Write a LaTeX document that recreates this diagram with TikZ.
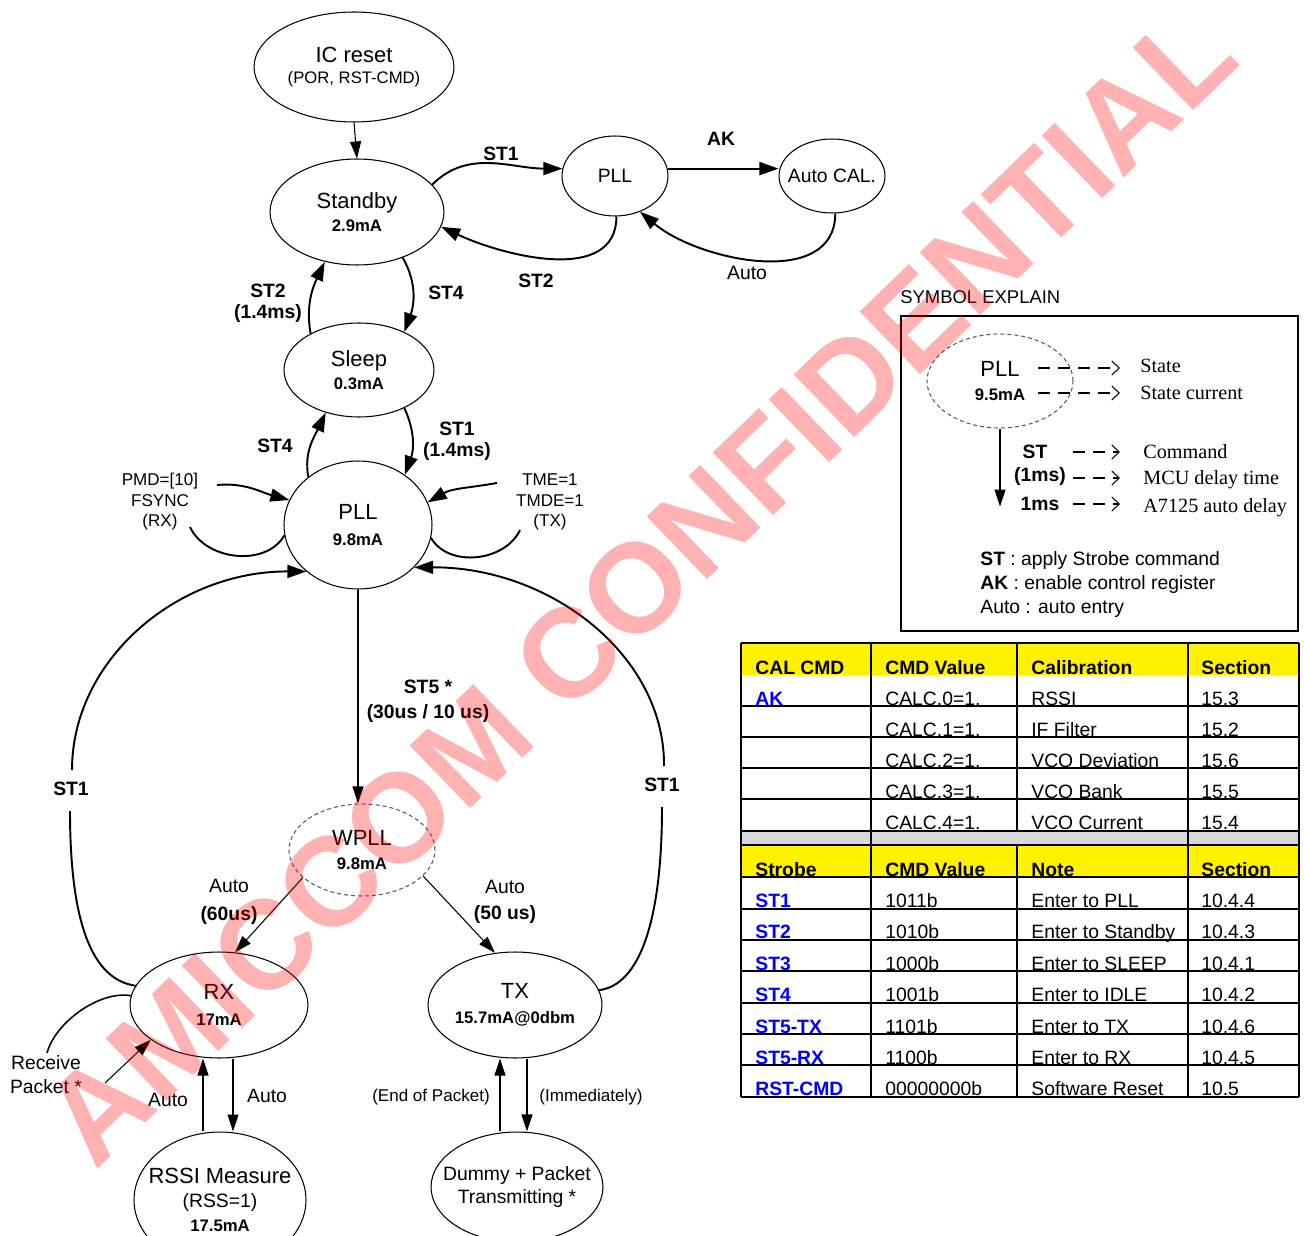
\documentclass[tikz,border=0pt]{standalone}
\usepackage{fontspec}
\setmainfont{Liberation Sans}
\newfontfamily\romanfont{Liberation Serif}
\usetikzlibrary{shapes.geometric,arrows.meta,calc}

% current drawn under a state name
\newcommand\curr[1]{{\fontsize{9.5}{10}\selectfont\bfseries #1}}

\begin{document}
\begin{tikzpicture}[x=0.02cm, y=0.02cm,
    state/.style={draw, ellipse, line width=0.6pt, inner sep=0pt},
    wait/.style={state, draw=black!65, dash pattern=on 0.08cm off 0.06cm},
    words/.style={align=center, inner sep=0pt, font=\fontsize{12.5}{13.5}\selectfont},
    small/.style={align=center, inner sep=0pt, font=\fontsize{11}{13.5}\selectfont},
    lbl/.style={inner sep=0pt, align=center, font=\fontsize{11}{12}\selectfont\bfseries},
    note/.style={inner sep=0pt, align=center, font=\fontsize{11}{13}\selectfont},
    cond/.style={inner sep=0pt, align=center, font=\fontsize{9.7}{11.7}\selectfont},
    feed/.style={line width=0.6pt, -{Triangle[length=0.34cm, width=0.22cm]}},
    move/.style={line width=1.1pt, -{Triangle[length=0.38cm, width=0.26cm]}},
    hook/.style={line width=1.1pt},
    hint/.style={line width=0.6pt, dash pattern=on 0.24cm off 0.16cm, -{Straight Barb[length=0.15cm, width=0.28cm]}},
    desc/.style={anchor=west, inner sep=0pt, font=\romanfont\fontsize{11.5}{12}\selectfont},
    rule/.style={line width=1.4pt},
    hair/.style={line width=0.6pt},
    cell/.style={anchor=base west, inner sep=0pt, font=\fontsize{11}{12}\selectfont},
    head/.style={cell, font=\fontsize{11}{12}\selectfont\bfseries},
    strobe/.style={cell, text=blue, font=\fontsize{11}{12}\selectfont\bfseries},
    stamp/.style={anchor=base, inner sep=0pt, rotate=44, text=red, text opacity=0.3, font=\fontsize{72}{72}\selectfont\bfseries}]

\useasboundingbox (0,0) rectangle (1304,-1236);
\clip (0,0) rectangle (1304,-1236);

% ---- states ----
\node[state, minimum width=4cm, minimum height=2.2cm,
  label={[words]center:{IC reset\\[-2pt]{\fontsize{9.5}{10}\selectfont(POR, RST-CMD)}}}] (icreset) at (354,-67) {};
\node[state, minimum width=3.48cm, minimum height=2.12cm,
  label={[words]center:{Standby\\\curr{2.9mA}}}] (standby) at (357,-212) {};
\node[state, minimum width=2.12cm, minimum height=1.6cm,
  label={[small]center:PLL}] (pllcal) at (615,-176) {};
\node[state, minimum width=2.12cm, minimum height=1.48cm,
  label={[small]center:Auto CAL.}] (autocal) at (832,-176) {};
\node[state, minimum width=3cm, minimum height=1.88cm,
  label={[words]center:{Sleep\\\curr{0.3mA}}}] (sleep) at (359,-370) {};
\node[state, minimum width=2.96cm, minimum height=2.56cm,
  label={[words]center:{PLL\\[1pt]\curr{9.8mA}}}] (pll) at (358,-525) {};
\node[wait, minimum width=2.92cm, minimum height=1.84cm,
  label={[words]center:{WPLL\\\curr{9.8mA}}}] (wpll) at (362,-850) {};
\node[state, minimum width=3.56cm, minimum height=2.12cm,
  label={[words]center:{RX\\[1pt]\curr{17mA}}}] (rx) at (219,-1005) {};
\node[state, minimum width=3.48cm, minimum height=2.12cm,
  label={[words]center:{TX\\[1pt]\curr{15.7mA@0dbm}}}] (tx) at (515,-1005) {};
\node[state, minimum width=3.44cm, minimum height=2.72cm,
  label={[words]center:{RSSI Measure\\{\fontsize{11}{12}\selectfont(RSS=1)}\\\curr{17.5mA}}}] (rssi) at (220,-1200) {};
\node[state, minimum width=3.44cm, minimum height=2.2cm,
  label={[small]center:{Dummy + Packet\\Transmitting *}}] (dummy) at (517,-1187) {};

% ---- standby / calibration loop ----
\draw[feed] (icreset.south) -- (standby.north);
\draw[move] (standby.20) to[out=45,in=180] (pllcal.172);
\node[lbl] (st1cal) at (501,-154) {ST1};
\draw[move] (pllcal.8) -- (pllcal.8 -| autocal.west);
\node[lbl] (ak) at (721,-139) {AK};
\draw[move] (pllcal.-88) to[out=-90,in=-25] (standby.-10);
\node[lbl] (st2cal) at (536,-281) {ST2};
\draw[move] (autocal.-85) to[out=-90,in=-40] (pllcal.-55);
\node[note] (autocalback) at (747,-273) {Auto};

% ---- standby / sleep / pll ----
\draw[move] (standby.-45) to[out=-60,in=70] (sleep.40);
\node[lbl] (st4a) at (446,-293) {ST4};
\draw[move] (sleep.143) to[out=100,in=-115] (standby.-123);
\node[lbl] (st2a) at (268,-303) {ST2\\(1.4ms)};
\draw[move] (pll.136) to[out=100,in=-115] (sleep.-128);
\node[lbl] (st4b) at (275,-446) {ST4};
\draw[move] (sleep.-40) to[out=-65,in=70] (pll.47);
\node[lbl] (st1a) at (457,-441) {ST1\\(1.4ms)};

% register settings beside PLL
\node[cond] (rxcond) at (160,-502) {PMD=[10]\\FSYNC\\(RX)};
\node[cond] (txcond) at (550,-502) {TME=1\\TMDE=1\\(TX)};
\coordinate (rxin) at (217,-485);
\coordinate (rxout) at (190,-527);
\coordinate (txin) at (497,-483);
\coordinate (txout) at (520,-530);
\draw[move] (rxin) to[out=5,in=165] (pll.160);
\draw[hook] (rxout) to[out=-65,in=-120] (pll.188);
\draw[move] (txin) to[out=190,in=30] (pll.18);
\draw[hook] (txout) to[out=-115,in=-60] (pll.-10);

% ---- pll / wpll / rx / tx ----
\draw[feed] (pll.south) -- (pll.south |- wpll.north);
\node[lbl] (st5) at (428,-701) {ST5 *\\[2pt](30us / 10 us)};
\draw[feed] (wpll.205) -- (rx.73);
\node[note] (autorx) at (229,-902) {Auto\\[3pt]\textbf{(60us)}};
\draw[feed] (wpll.-23) -- (tx.111);
\node[note] (autotx) at (505,-902) {Auto\\[2pt]\textbf{(50 us)}};

% ST1 back to PLL
\node[lbl] (st1l) at (71,-789) {ST1};
\node[lbl] (st1r) at (662,-785) {ST1};
\draw[hook] (rx.167) .. controls (95,-980) and (70,-930) .. ($(st1l)+(-1,-22)$);
\draw[move] ($(st1l)+(1,19)$) .. controls (72,-660) and (177,-571) .. (pll.-138);
\draw[hook] (tx.10) .. controls (640,-985) and (662,-920) .. ($(st1r)+(0,-22)$);
\draw[move] ($(st1r)+(2,19)$) .. controls (665,-656) and (551,-567) .. (pll.-37);

% rx side
\draw[feed] ($(rx.south)+(14,0)$) -- ($(rssi.north)+(13,0)$);
\draw[feed] ($(rssi.north)+(-17,0)$) -- ($(rx.south)+(-16,0)$);
\node[note] (autorssi) at (168,-1100) {Auto};
\node[note] (autoback) at (267,-1096) {Auto};
\node[note] (pkt) at (46,-1075) {Receive\\[0.7pt]Packet *};
\coordinate (pktin) at (105,-1083);
\coordinate (pkthook) at (47,-1053);
\draw[feed] (pktin) -- (rx.207);
\draw[hook, line width=0.9pt] (pkthook) to[out=75,in=170,looseness=0.8] (rx.174);

% tx side
\draw[feed] ($(tx.south)+(12,0)$) -- ($(dummy.north)+(10,0)$);
\draw[feed] ($(dummy.north)+(-17,0)$) -- ($(tx.south)+(-15,0)$);
\node[cond] (eop) at (431,-1097) {(End of Packet)};
\node[cond] (imm) at (591,-1097) {(Immediately)};

% ---- symbol explain ----
\node[anchor=west, inner sep=0pt, font=\fontsize{10.5}{12}\selectfont] (legtitle) at (900,-297) {SYMBOL EXPLAIN};
\draw[line width=0.9pt] (901,-316) rectangle (1298,-631);
\node[wait, minimum width=2.92cm, minimum height=1.88cm,
  label={[words]center:{PLL\\\curr{9.5mA}}}] (legstate) at (1000,-381) {};
\draw[feed] (legstate.south) -- ++(0,-78);
\foreach \y in {368,393} \draw[hint] (1038,-\y) -- (1120,-\y);
\foreach \y in {452,478,504} \draw[hint] (1073,-\y) -- (1120,-\y);
\node[desc] at (1140,-366) {State};
\node[desc] at (1140,-393) {State current};
\node[desc] at (1143,-452) {Command};
\node[desc] at (1143,-480) {MCU delay time};
\node[desc] at (1143,-508) {A7125 auto delay};
\node[lbl] at (1035,-452) {ST};
\node[lbl] at (1040,-477) {(1ms)};
\node[lbl] at (1040,-504) {1ms};
\node[note, anchor=west] at (980,-561) {\textbf{ST} : apply Strobe command};
\node[note, anchor=west] at (980,-585) {\textbf{AK} : enable control register};
\node[note, anchor=west] at (980,-609) {Auto : auto entry};

% ---- calibration table ----
\fill[yellow] (741,-643) rectangle (1299,-675);
\fill[black!15] (741,-831) rectangle (1299,-845);
\node[head] at (755,-674) {CAL CMD};
\node[head] at (885,-674) {CMD Value};
\node[head] at (1031,-674) {Calibration};
\node[head] at (1201,-674) {Section};
\foreach \a/\b/\c/\d [count=\i] in {AK/CALC.0=1./RSSI/15.3, {}/CALC.1=1./IF Filter/15.2,
    {}/CALC.2=1./VCO Deviation/15.6, {}/CALC.3=1./VCO Bank/15.5, {}/CALC.4=1./VCO Current/15.4}
{
  \node[strobe] at (755,{-674-31*\i}) {\a};
  \node[cell] at (885,{-674-31*\i}) {\b};
  \node[cell] at (1031,{-674-31*\i}) {\c};
  \node[cell] at (1201,{-674-31*\i}) {\d};
}
\draw[rule] (741,-643) -- (1299,-643);
\foreach \y in {706,737,768,799,831,845} \draw[rule] (741,-\y) -- (1299,-\y);
\foreach \x in {741,871,1188,1299} \draw[rule] (\x,-643) -- (\x,-845);
\draw[hair] (1017,-643) -- (1017,-831);

% ---- strobe table ----
\fill[yellow] (741,-846) rectangle (1299,-877);
\node[head] at (755,-876) {Strobe};
\node[head] at (885,-876) {CMD Value};
\node[head] at (1031,-876) {Note};
\node[head] at (1201,-876) {Section};
\foreach \a/\b/\c/\d [count=\i] in {ST1/1011b/Enter to PLL/10.4.4, ST2/1010b/Enter to Standby/10.4.3,
    ST3/1000b/Enter to SLEEP/10.4.1, ST4/1001b/Enter to IDLE/10.4.2, ST5-TX/1101b/Enter to TX/10.4.6,
    ST5-RX/1100b/Enter to RX/10.4.5, RST-CMD/00000000b/Software Reset/10.5}
{
  \node[strobe] at (755,{-876-31.4*\i}) {\a};
  \node[cell] at (885,{-876-31.4*\i}) {\b};
  \node[cell] at (1031,{-876-31.4*\i}) {\c};
  \node[cell] at (1201,{-876-31.4*\i}) {\d};
}
\foreach \y in {877,940,1003,1065,1097} \draw[rule] (741,-\y) -- (1299,-\y);
\foreach \y in {909,971,1034} \draw[hair] (741,-\y) -- (1299,-\y);
\foreach \x in {741,871,1188,1299} \draw[rule] (\x,-845) -- (\x,-1097);
\draw[hair] (1017,-845) -- (1017,-1097);

% ---- stamp across the sheet ----
\node[stamp] (mark) at (669,-617) {AMICCOM CONFIDENTIAL};
\end{tikzpicture}
\end{document}
